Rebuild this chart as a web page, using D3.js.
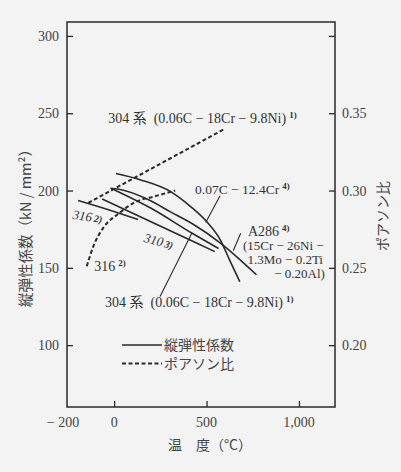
<!DOCTYPE html>
<html><head><meta charset="utf-8">
<script src="https://cdn.jsdelivr.net/npm/d3@7"></script>
<style>
html,body{margin:0;padding:0;background:#f3f3f3;}
svg{display:block;}
</style></head>
<body>
<svg id="chart" width="401" height="472"></svg>
<script>
// ---- data ----
const temp0712 = [10, 140, 310, 390, 500, 575, 625, 680];
const e0712    = [211, 207, 199, 192, 180, 168, 155, 141];
const tempA286 = [-20, 20, 195, 300, 430, 575, 770];
const eA286    = [201.5, 201, 193.5, 186.5, 178, 166, 145.5];
const temp304  = [0, 200, 420, 565];
const e304     = [200.5, 188.5, 172.5, 162.5];
const temp310  = [-65, 240, 545];
const e310     = [194.5, 177.5, 160.5];
const temp316  = [-195, -30, 130];
const e316     = [193.5, 187.5, 181.3];
const tempNu304 = [-140, 230, 600];
const nu304     = [0.292, 0.316, 0.340];
const tempNu316 = [-148, -112, -58, 23, 123, 212, 330];
const nu316     = [0.251, 0.264, 0.276, 0.285, 0.293, 0.296, 0.300];

const xTicks = [0, 500, 1000];
const xTickLabels = ["0", "500", "1,000"];
const xExtraLabel = "− 200";
const yTicks = [100, 150, 200, 250, 300];
const yRTicks = [0.20, 0.25, 0.30, 0.35, 0.40];
const yRTickLabels = ["0.20", "0.25", "0.30", "0.35", ""];
const legendLabels = ["縦弾性係数", "ポアソン比"];

// ---- layout ----
const svg = d3.select("#chart");
const W = 401, H = 472;
const L = 67, R = 335, T = 22, B = 407;
const x = d3.scaleLinear().domain([-255, 1195]).range([L, R]);
const y = d3.scaleLinear().domain([60, 309]).range([B, T]);
const yR = d3.scaleLinear().domain([0.16, 0.409]).range([B, T]);
const ink = "#2a2a2a";
const serif = "'Liberation Serif','DejaVu Serif','Noto Sans CJK JP',serif";
const cjk = "'Noto Sans CJK JP','Noto Sans CJK SC',sans-serif";

svg.append("rect").attr("width", W).attr("height", H).attr("fill", "#f3f3f3");

// frame
svg.append("rect").attr("x", L).attr("y", T).attr("width", R - L).attr("height", B - T)
  .attr("fill", "none").attr("stroke", ink).attr("stroke-width", 1.5);

// axes (ticks inward)
const gL = svg.append("g").attr("transform", `translate(${L},0)`)
  .call(d3.axisRight(y).tickValues(yTicks).tickSize(6).tickFormat(""));
const gR = svg.append("g").attr("transform", `translate(${R},0)`)
  .call(d3.axisLeft(yR).tickValues(yRTicks).tickSize(6).tickFormat(""));
const gB = svg.append("g").attr("transform", `translate(0,${B})`)
  .call(d3.axisTop(x).tickValues(xTicks).tickSize(6).tickFormat(""));
[gL, gR, gB].forEach(g => {
  g.select(".domain").remove();
  g.selectAll("line").attr("stroke", ink).attr("stroke-width", 1.3);
});

// tick labels
svg.append("g").selectAll("text").data(yTicks).join("text")
  .attr("x", L - 8).attr("y", d => y(d) + 5).attr("text-anchor", "end")
  .attr("font-family", serif).attr("font-size", 14).attr("fill", "#444").text(d => d);
svg.append("g").selectAll("text").data(yRTicks).join("text")
  .attr("x", R + 7).attr("y", d => yR(d) + 5).attr("text-anchor", "start")
  .attr("font-family", serif).attr("font-size", 14).attr("fill", "#444").text((d, i) => yRTickLabels[i]);
svg.append("g").selectAll("text").data(xTicks).join("text")
  .attr("x", d => x(d)).attr("y", B + 20).attr("text-anchor", "middle")
  .attr("font-family", serif).attr("font-size", 14).attr("fill", "#444").text((d, i) => xTickLabels[i]);
svg.append("text").attr("x", x(-200) + 2).attr("y", B + 20).attr("text-anchor", "end")
  .attr("font-family", serif).attr("font-size", 14).attr("fill", "#444").text(xExtraLabel);

// axis titles
svg.append("text").attr("transform", `translate(31,${(T + B) / 2 + 10}) rotate(-90)`)
  .attr("text-anchor", "middle").attr("font-family", cjk).attr("font-size", 14.5).attr("fill", "#444")
  .text("縦弾性係数（kN / mm²）");
svg.append("text").attr("transform", `translate(388,216) rotate(-90)`)
  .attr("text-anchor", "middle").attr("font-family", cjk).attr("font-size", 14).attr("fill", "#444")
  .text("ポアソン比");
svg.append("text").attr("x", 210).attr("y", 450).attr("text-anchor", "middle")
  .attr("font-family", cjk).attr("font-size", 14).attr("fill", "#444")
  .text("温　度（°C）");

// curves
const lineE = d3.line().x(d => x(d[0])).y(d => y(d[1])).curve(d3.curveMonotoneX);
const lineNu = d3.line().x(d => x(d[0])).y(d => yR(d[1])).curve(d3.curveMonotoneX);
const zip = (a, b) => a.map((v, i) => [v, b[i]]);
const solids = [zip(temp0712, e0712), zip(tempA286, eA286), zip(temp304, e304), zip(temp310, e310), zip(temp316, e316)];
const dashes = [zip(tempNu304, nu304), zip(tempNu316, nu316)];
svg.append("g").selectAll("path").data(solids).join("path")
  .attr("d", lineE).attr("fill", "none").attr("stroke", ink).attr("stroke-width", 1.6);
svg.append("g").selectAll("path").data(dashes).join("path")
  .attr("d", lineNu).attr("fill", "none").attr("stroke", ink).attr("stroke-width", 2)
  .attr("stroke-dasharray", "4,2.5");

// leader lines (data coordinates)
const leaders = [
  [[573, 196.6], [495.6, 179.3]],
  [[684.8, 172.4], [644.8, 161.2]],
  [[248.6, 131.4], [420, 172.4]]
];
svg.append("g").selectAll("line").data(leaders).join("line")
  .attr("x1", d => x(d[0][0])).attr("y1", d => y(d[0][1]))
  .attr("x2", d => x(d[1][0])).attr("y2", d => y(d[1][1]))
  .attr("stroke", ink).attr("stroke-width", 1.1);

// annotations
function label(tx, ty, parts, opts = {}) {
  const t = svg.append("text").attr("x", x(tx)).attr("y", y(ty))
    .attr("font-family", serif).attr("font-size", opts.size || 13).attr("fill", "#333")
    .attr("text-anchor", opts.anchor || "start");
  if (opts.italic) t.attr("font-style", "italic");
  if (opts.rotate) t.attr("transform", `rotate(${opts.rotate},${x(tx)},${y(ty)})`);
  parts.forEach(p => {
    const s = t.append("tspan").text(p.t);
    if (p.sup) s.attr("font-size", 9).attr("font-weight", "bold").attr("dy", -5).attr("dx", 3);
    if (p.sub) s.attr("font-size", 10).attr("font-weight", "bold").attr("dx", 2);
  });
  return t;
}
label(-32, 244, [{t: "304 系\u00a0\u00a0(0.06C − 18Cr − 9.8Ni)"}, {t: "1)", sup: true}], {size: 14});
label(438, 197.9, [{t: "0.07C − 12.4Cr"}, {t: "4)", sup: true}], {size: 13.5});
label(724, 170.7, [{t: "A286"}, {t: "4)", sup: true}], {size: 14});
label(697, 161.3, [{t: "(15Cr − 26Ni −"}]);
label(1130, 152.3, [{t: "1.3Mo − 0.2Ti"}], {anchor: "end"});
label(1140, 143.2, [{t: "− 0.20Al)"}], {anchor: "end"});
label(-227, 181.7, [{t: "316"}, {t: "2)", sub: true}], {italic: true, rotate: 8});
label(157, 166.8, [{t: "310"}, {t: "3)", sub: true}], {italic: true, rotate: 14});
label(-108, 148, [{t: "316"}, {t: "2)", sup: true}], {size: 14});
label(-49, 124.5, [{t: "304 系\u00a0\u00a0(0.06C − 18Cr − 9.8Ni)"}, {t: "1)", sup: true}], {size: 14});

// legend
const lg = svg.append("g");
[0, 1].forEach(i => {
  const yy = 345 + i * 18.5;
  lg.append("line").attr("x1", 122).attr("x2", 162).attr("y1", yy).attr("y2", yy)
    .attr("stroke", ink).attr("stroke-width", i ? 2 : 1.6)
    .attr("stroke-dasharray", i ? "4,2.5" : null);
  lg.append("text").attr("x", 164).attr("y", yy + 5).attr("font-family", cjk)
    .attr("font-size", 14).attr("fill", "#444").text(legendLabels[i]);
});
</script>
</body></html>
